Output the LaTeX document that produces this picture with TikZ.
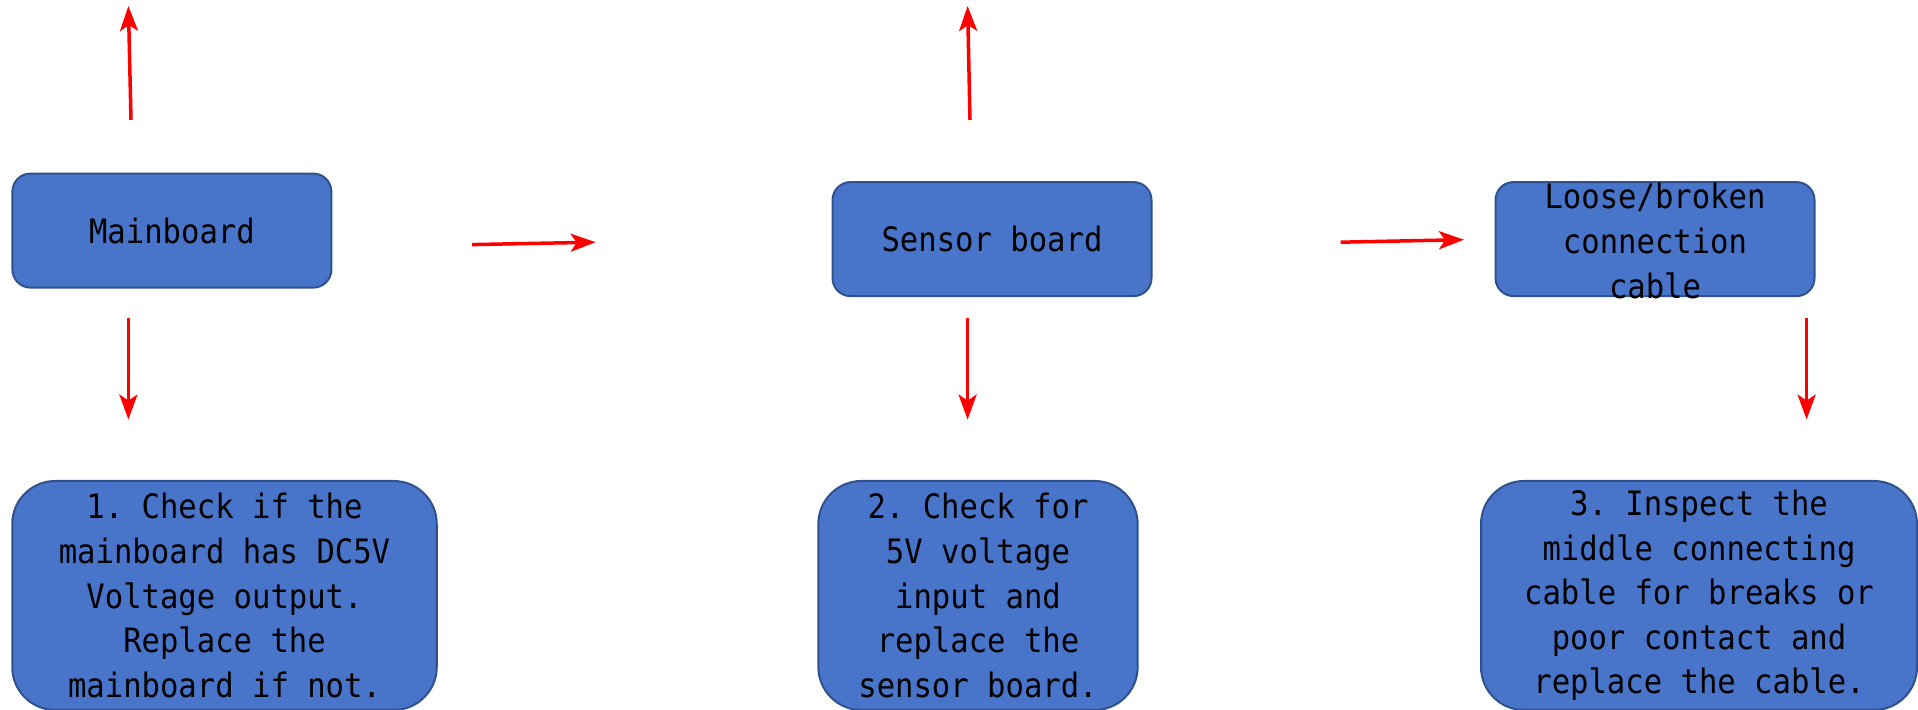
\documentclass[tikz,border=0pt]{standalone}
\usepackage{fontspec}
\setmonofont[FakeStretch=0.91]{DejaVu Sans Mono}
\usetikzlibrary{arrows.meta}

\definecolor{boxblue}{HTML}{4874C9}
\definecolor{boxedge}{HTML}{2F528F}
\definecolor{arrowred}{HTML}{FF0000}

\tikzset{
  board/.style={draw=boxedge, fill=boxblue, line width=2pt, rounded corners=18pt,
    minimum width=319pt, minimum height=114pt, inner sep=0pt},
  stepcard/.style={draw=boxedge, fill=boxblue, line width=2pt, rounded corners=43pt,
    minimum height=229pt, inner sep=0pt},
  lbl/.style={font=\ttfamily\fontsize{33.6}{44.6}\selectfont, align=center},
  redarrow/.style={draw=arrowred, line width=3.5pt,
    -{Stealth[length=25pt,width=18pt,inset=6pt]}}
}

\begin{document}
\begin{tikzpicture}[x=1pt, y=1pt]
  \useasboundingbox (0,0) rectangle (1918,709);

  % top row
  \node[board, lbl] (main) at (171.9,478.4) {Mainboard};
  \node[board, lbl] (sensor) at (992,469.9) {Sensor board};
  \node[board] (cable) at (1655,469.9) {};
  \node[lbl] (cabletxt) at (1655,468) {Loose/broken\\connection\\cable};

  % bottom row
  \node[stepcard, lbl, minimum width=424.5pt] (step1) at (224.5,113.5)
    {1. Check if the\\mainboard has DC5V\\Voltage output.\\Replace the\\mainboard if not.};
  \node[stepcard, lbl, minimum width=319.3pt] (step2) at (978,113.5)
    {2. Check for\\5V voltage\\input and\\replace the\\sensor board.};
  \node[stepcard, lbl, minimum width=436pt] (step3) at (1699,113.5)
    {3. Inspect the\\middle connecting\\cable for breaks or\\poor contact and\\replace the cable.};

  % arrow ends
  \coordinate (up1a) at (131,589);    \coordinate (up1b) at (128.4,703);
  \coordinate (up2a) at (970,589);    \coordinate (up2b) at (967.6,703);
  \coordinate (rt1a) at (472,464.4);  \coordinate (rt1b) at (595.7,466.8);
  \coordinate (rt2a) at (1340.6,466.8); \coordinate (rt2b) at (1464,469.3);
  \coordinate (dn1a) at (128.4,391);  \coordinate (dn1b) at (128.4,289.4);
  \coordinate (dn2a) at (967.6,391);  \coordinate (dn2b) at (967.6,289.4);
  \coordinate (dn3a) at (1806.6,391); \coordinate (dn3b) at (1806.6,289.4);

  \draw[redarrow] (up1a) -- (up1b);
  \draw[redarrow] (up2a) -- (up2b);
  \draw[redarrow] (rt1a) -- (rt1b);
  \draw[redarrow] (rt2a) -- (rt2b);
  \draw[redarrow] (dn1a) -- (dn1b);
  \draw[redarrow] (dn2a) -- (dn2b);
  \draw[redarrow] (dn3a) -- (dn3b);
\end{tikzpicture}
\end{document}
